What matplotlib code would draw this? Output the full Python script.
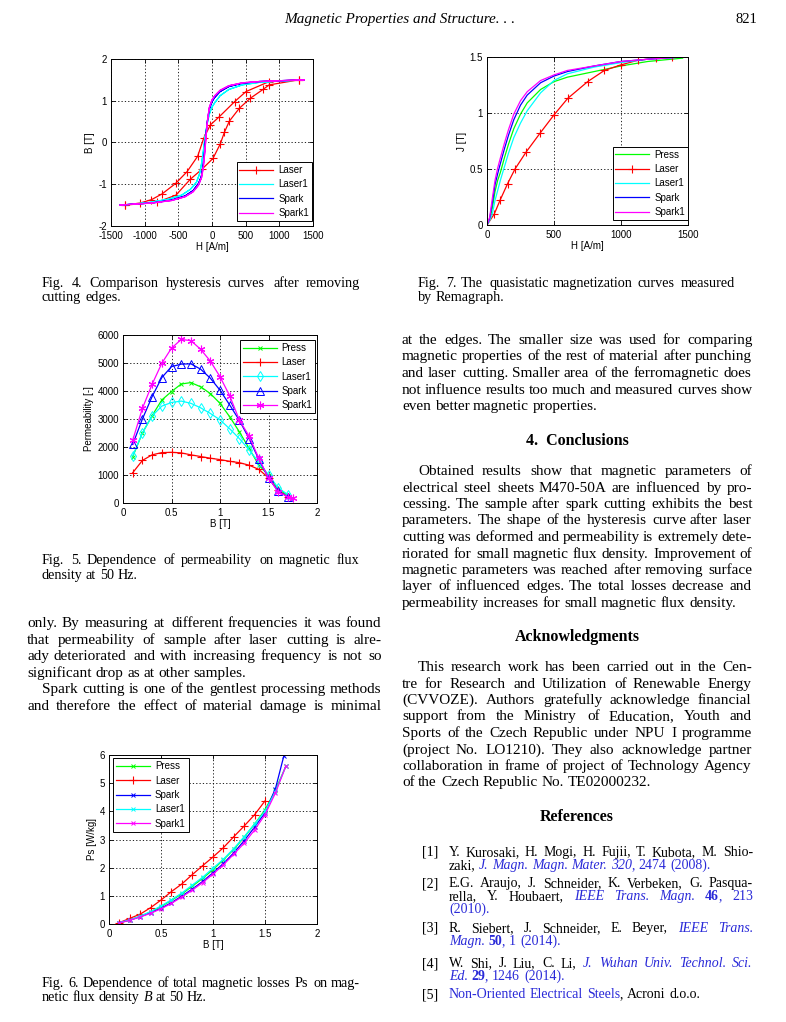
import matplotlib
matplotlib.use('Agg')
import matplotlib.pyplot as plt
from matplotlib.ticker import FuncFormatter

###################################################
# Data
###################################################

# Fig. 4 - hysteresis loops, H [A/m] and B [T]
laser_up_h = [1290, 850, 505, 337, 110, -25, -124, -213, -371, -540, -740, -900, -1070, -1290]
laser_up_b = [1.50, 1.46, 1.22, 0.98, 0.62, 0.42, 0.10, -0.33, -0.70, -0.98, -1.23, -1.37, -1.45, -1.50]
laser_lo_h = [-1290, -817, -535, -322, -149, 15, 124, 183, 257, 406, 569, 757, 850, 1290]
laser_lo_b = [-1.50, -1.43, -1.26, -0.88, -0.64, -0.38, -0.03, 0.24, 0.51, 0.82, 1.06, 1.27, 1.38, 1.50]

laser1_up_h = [1370, 1000, 700, 450, 250, 120, 40, 0, -40, -75, -105, -130, -155, -185, -230, -320, -450, -650, -950, -1200, -1370]
laser1_up_b = [1.50, 1.47, 1.44, 1.38, 1.27, 1.12, 0.95, 0.85, 0.68, 0.42, 0.10, -0.22, -0.50, -0.75, -0.95, -1.12, -1.26, -1.36, -1.44, -1.48, -1.50]
laser1_lo_h = [-1370, -1200, -950, -650, -450, -320, -230, -185, -155, -130, -105, -75, -40, 0, 40, 120, 250, 450, 700, 1000, 1370]
laser1_lo_b = [-1.50, -1.48, -1.44, -1.36, -1.26, -1.12, -0.95, -0.75, -0.50, -0.22, 0.10, 0.42, 0.68, 0.85, 0.95, 1.12, 1.27, 1.38, 1.44, 1.47, 1.50]

spark_up_h = [1370, 1000, 700, 450, 250, 120, 40, 0, -40, -70, -95, -115, -135, -160, -200, -280, -400, -600, -900, -1200, -1370]
spark_up_b = [1.50, 1.48, 1.46, 1.42, 1.34, 1.22, 1.08, 0.98, 0.80, 0.50, 0.10, -0.30, -0.60, -0.82, -0.98, -1.15, -1.28, -1.38, -1.45, -1.48, -1.50]
spark_lo_h = [-1370, -1200, -900, -600, -400, -280, -200, -160, -135, -115, -95, -70, -40, 0, 40, 120, 250, 450, 700, 1000, 1370]
spark_lo_b = [-1.50, -1.48, -1.45, -1.38, -1.28, -1.15, -0.98, -0.82, -0.60, -0.30, 0.10, 0.50, 0.80, 0.98, 1.08, 1.22, 1.34, 1.42, 1.46, 1.48, 1.50]

spark1_up_h = [1370, 1000, 700, 450, 250, 120, 40, 0, -40, -65, -88, -108, -128, -155, -200, -280, -400, -600, -900, -1200, -1370]
spark1_up_b = [1.50, 1.48, 1.46, 1.43, 1.36, 1.25, 1.12, 1.02, 0.84, 0.55, 0.15, -0.25, -0.58, -0.84, -1.02, -1.18, -1.30, -1.39, -1.45, -1.48, -1.50]
spark1_lo_h = [-1370, -1200, -900, -600, -400, -280, -200, -155, -128, -108, -88, -65, -40, 0, 40, 120, 250, 450, 700, 1000, 1370]
spark1_lo_b = [-1.50, -1.48, -1.45, -1.39, -1.30, -1.18, -1.02, -0.84, -0.58, -0.25, 0.15, 0.55, 0.84, 1.02, 1.12, 1.25, 1.36, 1.43, 1.46, 1.48, 1.50]

# Fig. 7 - quasistatic magnetization curves, H [A/m] and J [T]
mag_h = [0, 20, 40, 60, 80, 100, 130, 160, 200, 250, 300, 400, 500, 600, 800, 1000, 1200, 1460]
mag_press = [0, 0.05, 0.15, 0.30, 0.40, 0.47, 0.60, 0.72, 0.86, 0.99, 1.09, 1.21, 1.28, 1.32, 1.37, 1.42, 1.46, 1.49]
mag_laser1 = [0, 0.04, 0.10, 0.22, 0.31, 0.40, 0.52, 0.64, 0.78, 0.91, 1.02, 1.18, 1.29, 1.35, 1.41, 1.45, 1.48, 1.50]
mag_spark = [0, 0.06, 0.20, 0.36, 0.46, 0.55, 0.68, 0.80, 0.94, 1.07, 1.16, 1.27, 1.33, 1.37, 1.42, 1.46, 1.48, 1.50]
mag_spark1 = [0, 0.07, 0.24, 0.40, 0.51, 0.60, 0.73, 0.85, 0.99, 1.11, 1.19, 1.29, 1.34, 1.38, 1.42, 1.46, 1.48, 1.50]
mag_laser_h = [0, 55, 97, 154, 209, 291, 396, 498, 602, 751, 876, 1000, 1124, 1261, 1380]
mag_laser = [0, 0.10, 0.22, 0.37, 0.50, 0.65, 0.82, 0.98, 1.13, 1.28, 1.38, 1.43, 1.47, 1.49, 1.50]

# Fig. 5 - permeability vs B
perm_b = [0.1, 0.2, 0.3, 0.4, 0.5, 0.6, 0.7, 0.8, 0.9, 1.0, 1.1, 1.2, 1.3, 1.4, 1.5, 1.6, 1.7]
perm_press = [1650, 2500, 3120, 3680, 3980, 4250, 4300, 4150, 3910, 3560, 3080, 2540, 1950, 1350, 1000, 500, 270]
perm_laser = [1080, 1520, 1720, 1800, 1810, 1790, 1720, 1660, 1600, 1550, 1490, 1440, 1350, 1200, 900, 450, 220]
perm_laser1 = [1680, 2500, 3110, 3460, 3590, 3640, 3560, 3400, 3200, 2970, 2650, 2300, 1900, 1450, 1000, 540, 300]
perm_spark = [2090, 3000, 3800, 4480, 4870, 4960, 4970, 4780, 4460, 4030, 3500, 2950, 2300, 1560, 890, 420, 220]
perm_spark1_b = [0.1, 0.2, 0.3, 0.4, 0.5, 0.6, 0.7, 0.8, 0.9, 1.0, 1.1, 1.2, 1.3, 1.4, 1.5, 1.6, 1.7, 1.75]
perm_spark1 = [2240, 3380, 4240, 4990, 5530, 5840, 5800, 5490, 5070, 4510, 3830, 2960, 2390, 1590, 900, 400, 220, 180]

# Fig. 6 - total losses vs B
loss_b = [0.1, 0.2, 0.3, 0.4, 0.5, 0.6, 0.7, 0.8, 0.9, 1.0, 1.1, 1.2, 1.3, 1.4, 1.5, 1.6, 1.7]
loss_press = [0.04, 0.14, 0.27, 0.43, 0.62, 0.84, 1.07, 1.34, 1.62, 1.93, 2.28, 2.65, 3.08, 3.55, 4.05, 4.75, 5.60]
loss_laser1 = [0.05, 0.15, 0.28, 0.44, 0.64, 0.86, 1.10, 1.38, 1.66, 1.98, 2.30, 2.68, 3.10, 3.55, 4.00, 4.70, 5.60]
loss_spark1 = [0.04, 0.13, 0.25, 0.38, 0.54, 0.73, 0.96, 1.20, 1.47, 1.77, 2.10, 2.48, 2.87, 3.34, 3.88, 4.65, 5.60]
loss_spark_b = [0.1, 0.2, 0.3, 0.4, 0.5, 0.6, 0.7, 0.8, 0.9, 1.0, 1.1, 1.2, 1.3, 1.4, 1.5, 1.6, 1.68]
loss_spark = [0.05, 0.14, 0.26, 0.40, 0.56, 0.76, 0.99, 1.24, 1.51, 1.82, 2.15, 2.53, 2.96, 3.44, 3.95, 4.80, 5.95]
loss_laser_b = [0.1, 0.2, 0.3, 0.4, 0.5, 0.6, 0.7, 0.8, 0.9, 1.0, 1.1, 1.2, 1.3, 1.4, 1.5]
loss_laser = [0.05, 0.20, 0.35, 0.58, 0.85, 1.15, 1.42, 1.75, 2.07, 2.38, 2.71, 3.10, 3.48, 3.88, 4.37]

###################################################
# Page text
###################################################
BLUE = '#2a2ad8'
IB = {'style': 'italic', 'color': BLUE}
BB = {'weight': 'bold', 'color': BLUE}
B_ = {'color': BLUE}

left_par = ["only. By measuring at different frequencies it was found",
            "that permeability of sample after laser cutting is alre-",
            "ady deteriorated and with increasing frequency is not so",
            "significant drop as at other samples."]
left_par2 = ["Spark cutting is one of the gentlest processing methods",
             "and therefore the effect of material damage is minimal"]
right_par1 = ["at the edges.  The smaller size was used for comparing",
              "magnetic properties of the rest of material after punching",
              "and laser cutting.  Smaller area of the ferromagnetic does",
              "not influence results too much and measured curves show",
              "even better magnetic properties."]
conclusions = ["Obtained results show that magnetic parameters of",
               "electrical steel sheets M470-50A are influenced by pro-",
               "cessing.  The sample after spark cutting exhibits the best",
               "parameters.  The shape of the hysteresis curve after laser",
               "cutting was deformed and permeability is extremely dete-",
               "riorated for small magnetic flux density.  Improvement of",
               "magnetic parameters was reached after removing surface",
               "layer of influenced edges.  The total losses decrease and",
               "permeability increases for small magnetic flux density."]
acknowledgments = ["This research work has been carried out in the Cen-",
                   "tre for Research and Utilization of Renewable Energy",
                   "(CVVOZE).  Authors gratefully acknowledge financial",
                   "support from the Ministry of Education, Youth and",
                   "Sports of the Czech Republic under NPU I programme",
                   "(project No.  LO1210).  They also acknowledge partner",
                   "collaboration in frame of project of Technology Agency",
                   "of the Czech Republic No. TE02000232."]
references = [
    ["Y. Kurosaki, H. Mogi, H. Fujii, T. Kubota, M. Shio-",
     [("zaki, ", {}), ("J. Magn. Magn. Mater. 320", IB), (", 2474 (2008).", B_)]],
    ["E.G. Araujo, J. Schneider, K. Verbeken, G. Pasqua-",
     [("rella, Y. Houbaert, ", {}), ("IEEE Trans. Magn. ", IB), ("46", BB), (", 213", B_)],
     [("(2010).", B_)]],
    [[("R. Siebert, J. Schneider, E. Beyer, ", {}), ("IEEE Trans.", IB)],
     [("Magn. ", IB), ("50", BB), (", 1 (2014).", B_)]],
    [[("W. Shi, J. Liu, C. Li, ", {}), ("J. Wuhan Univ. Technol. Sci.", IB)],
     [("Ed. ", IB), ("29", BB), (", 1246 (2014).", B_)]],
    [[("Non-Oriented Electrical Steels", B_), (", Acroni d.o.o.", {})]],
]

###################################################
# Figure and helpers
###################################################
W, H = 786, 1022
plt.rcParams['axes.unicode_minus'] = False
fig = plt.figure(figsize=(W / 100, H / 100), dpi=100)
renderer = fig.canvas.get_renderer()
SERIF = 'Liberation Serif'
SANS = 'Liberation Sans'


def fx(px):
    return px / W


def fy(py):
    return 1 - py / H


def to_words(line):
    if isinstance(line, str):
        line = [(line, {})]
    words = []
    new_word = True
    for txt, st in line:
        for i, p in enumerate(txt.split(' ')):
            if i > 0:
                new_word = True
            if p == '':
                continue
            if new_word or not words:
                words.append([(p, st)])
            else:
                words[-1].append((p, st))
            new_word = False
    return words


def text_line(line, x0, x1, y, size, justify=True):
    # place a line word by word so that it is justified like the typeset page
    words = to_words(line)
    objs = []
    widths = []
    for w in words:
        row = []
        for p, st in w:
            t = fig.text(0, 0, p, fontsize=size, family=SERIF, va='baseline',
                         fontstyle=st.get('style', 'normal'),
                         fontweight=st.get('weight', 'normal'),
                         color=st.get('color', 'black'))
            row.append((t, t.get_window_extent(renderer).width))
        objs.append(row)
        widths.append(sum(r[1] for r in row))
    space = 0.25 * size * 100 / 72
    n = len(words)
    if sum(widths) + 0.8 * space * (n - 1) > x1 - x0:
        # too wide for the column: set this line a little smaller
        for row in objs:
            for t, wd in row:
                t.remove()
        scale = (x1 - x0) / (sum(widths) + 0.8 * space * (n - 1))
        text_line(line, x0, x1, y, size * scale * 0.995, justify)
        return
    if justify and n > 1:
        gap = (x1 - x0 - sum(widths)) / (n - 1)
    else:
        gap = space
    x = x0
    for row in objs:
        for t, wd in row:
            t.set_position((fx(round(x)), fy(y)))
            x += wd
        x += gap


def paragraph(lines, x0, x1, y0, dy, size=11, indent=0, justify_last=False):
    for i, line in enumerate(lines):
        last = (i == len(lines) - 1) and not justify_last
        text_line(line, x0 + (indent if i == 0 else 0), x1, round(y0 + i * dy), size,
                  justify=not last)


def add_axes(left, top, right, bottom):
    return fig.add_axes([fx(left), fy(bottom), (right - left) / W, (bottom - top) / H])


def style_axes(ax, xlim, ylim, xticks, yticks, xlabel, ylabel):
    ax.set_xlim(xlim)
    ax.set_ylim(ylim)
    ax.set_xticks(xticks)
    ax.set_yticks(yticks)
    fmt = FuncFormatter(lambda v, p: '{:g}'.format(v))
    ax.xaxis.set_major_formatter(fmt)
    ax.yaxis.set_major_formatter(fmt)
    ax.grid(True, color='black', linestyle=(0, (1.5, 2.5)), linewidth=0.6)
    ax.tick_params(direction='in', length=3, width=0.6, labelsize=7, top=True, right=True)
    ax.tick_params(axis='x', pad=3.5)
    ax.tick_params(axis='y', pad=3)
    for lab in ax.get_xticklabels() + ax.get_yticklabels():
        lab.set_family(SANS)
    for s in ax.spines.values():
        s.set_linewidth(0.7)
    ax.set_xlabel(xlabel, fontsize=7, family=SANS, labelpad=1)
    ax.set_ylabel(ylabel, fontsize=7, family=SANS, labelpad=2)


def legend(ax, loc, anchor):
    leg = ax.legend(loc=loc, bbox_to_anchor=anchor, prop={'family': SANS, 'size': 7},
                    fancybox=False, edgecolor='black', framealpha=1, handlelength=3.5,
                    borderpad=0.3, labelspacing=0.45, handletextpad=0.5, borderaxespad=0)
    leg.get_frame().set_linewidth(0.7)


LW = 0.9
ASTER = (6, 2, 0)

###################################################
# Fig. 4 - hysteresis
###################################################
ax1 = add_axes(111, 59, 313, 226)
ax1.plot(laser_up_h + laser_lo_h, laser_up_b + laser_lo_b, color='red', lw=LW,
         marker='+', ms=6, mew=0.8, label='Laser')
ax1.plot(laser1_up_h + laser1_lo_h, laser1_up_b + laser1_lo_b, color='cyan', lw=LW, label='Laser1')
ax1.plot(spark_up_h + spark_lo_h, spark_up_b + spark_lo_b, color='blue', lw=LW, label='Spark')
ax1.plot(spark1_up_h + spark1_lo_h, spark1_up_b + spark1_lo_b, color='magenta', lw=LW, label='Spark1')
style_axes(ax1, (-1500, 1500), (-2, 2), [-1500, -1000, -500, 0, 500, 1000, 1500],
           [-2, -1, 0, 1, 2], 'H [A/m]', 'B [T]')
legend(ax1, 'lower right', (0.995, 0.03))

###################################################
# Fig. 7 - magnetization curves
###################################################
ax2 = add_axes(487, 57, 688, 225)
ax2.plot(mag_h, mag_press, color='#00ff00', lw=LW, label='Press')
ax2.plot(mag_laser_h, mag_laser, color='red', lw=LW, marker='+', ms=6, mew=0.8, label='Laser')
ax2.plot(mag_h, mag_laser1, color='cyan', lw=LW, label='Laser1')
ax2.plot(mag_h, mag_spark, color='blue', lw=LW, label='Spark')
ax2.plot(mag_h, mag_spark1, color='magenta', lw=LW, label='Spark1')
style_axes(ax2, (0, 1500), (0, 1.5), [0, 500, 1000, 1500], [0, 0.5, 1, 1.5], 'H [A/m]', 'J [T]')
legend(ax2, 'lower right', (1.0, 0.03))

###################################################
# Fig. 5 - permeability
###################################################
ax3 = add_axes(123, 335, 317, 503)
ax3.plot(perm_b, perm_press, color='#00ff00', lw=LW, marker='x', ms=3.5, mew=0.7, label='Press')
ax3.plot(perm_b, perm_laser, color='red', lw=LW, marker='+', ms=6, mew=0.8, label='Laser')
ax3.plot(perm_b, perm_laser1, color='cyan', lw=LW, marker='d', ms=5, mew=0.7, mfc='none', label='Laser1')
ax3.plot(perm_b, perm_spark, color='blue', lw=LW, marker='^', ms=5.5, mew=0.7, mfc='none', label='Spark')
ax3.plot(perm_spark1_b, perm_spark1, color='magenta', lw=LW, marker=ASTER, ms=5.5, mew=0.8, label='Spark1')
style_axes(ax3, (0, 2), (0, 6000), [0, 0.5, 1, 1.5, 2], [0, 1000, 2000, 3000, 4000, 5000, 6000],
           'B [T]', 'Permeability [-]')
legend(ax3, 'upper right', (0.99, 0.97))

###################################################
# Fig. 6 - losses
###################################################
ax4 = add_axes(109, 755, 317, 924)
ax4.plot(loss_b, loss_press, color='#00ff00', lw=LW, marker='x', ms=3.5, mew=0.7, label='Press')
ax4.plot(loss_laser_b, loss_laser, color='red', lw=LW, marker='+', ms=6, mew=0.8, label='Laser')
ax4.plot(loss_spark_b, loss_spark, color='blue', lw=LW, marker='x', ms=3.5, mew=0.7, label='Spark')
ax4.plot(loss_b, loss_laser1, color='cyan', lw=LW, marker='x', ms=3.5, mew=0.7, label='Laser1')
ax4.plot(loss_b, loss_spark1, color='magenta', lw=LW, marker='x', ms=3.5, mew=0.7, label='Spark1')
style_axes(ax4, (0, 2), (0, 6), [0, 0.5, 1, 1.5, 2], [0, 1, 2, 3, 4, 5, 6], 'B [T]', 'Ps [W/kg]')
legend(ax4, 'upper left', (0.02, 0.98))

###################################################
# Header, captions and body text
###################################################
fig.text(fx(400), fy(23), 'Magnetic Properties and Structure. . .', fontsize=11,
         family=SERIF, style='italic', ha='center', va='baseline')
fig.text(fx(757), fy(23), '821', fontsize=10.5, family=SERIF, ha='right', va='baseline')

paragraph(["Fig. 4.  Comparison hysteresis curves after removing", "cutting edges."],
          42, 360, 287, 14, size=10.2)
paragraph(["Fig. 7.  The quasistatic magnetization curves measured", "by Remagraph."],
          418, 735, 287, 14, size=10.2)
paragraph(["Fig. 5.  Dependence of permeability on magnetic flux", "density at 50 Hz."],
          42, 360, 564, 15, size=10.2)
paragraph(["Fig. 6.  Dependence of total magnetic losses Ps on mag-",
           [("netic flux density ", {}), ("B", {'style': 'italic'}), (" at 50 Hz.", {})]],
          42, 360, 987, 14, size=10.2)

paragraph(left_par, 27, 382, 627, 16.65)
paragraph(left_par2, 27, 382, 693, 16.65, indent=15, justify_last=True)

paragraph(right_par1, 402, 752, 344, 16.5)
fig.text(fx(577), fy(445), '4.  Conclusions', fontsize=11.5, family=SERIF,
         weight='bold', ha='center', va='baseline')
paragraph(conclusions, 402, 752, 475, 16.5, indent=16)
fig.text(fx(577), fy(641), 'Acknowledgments', fontsize=11.5, family=SERIF,
         weight='bold', ha='center', va='baseline')
paragraph(acknowledgments, 402, 752, 671, 16.5, indent=16)
fig.text(fx(577), fy(821), 'References', fontsize=11.5, family=SERIF,
         weight='bold', ha='center', va='baseline')

ref_y = [856, 887, 932, 967, 998]
for i, (ref, y) in enumerate(zip(references, ref_y)):
    fig.text(fx(422), fy(y), '[%d]' % (i + 1), fontsize=10, family=SERIF, va='baseline')
    paragraph(ref, 449, 753, y, 13, size=10)

fig.savefig('out.png', dpi=100)
